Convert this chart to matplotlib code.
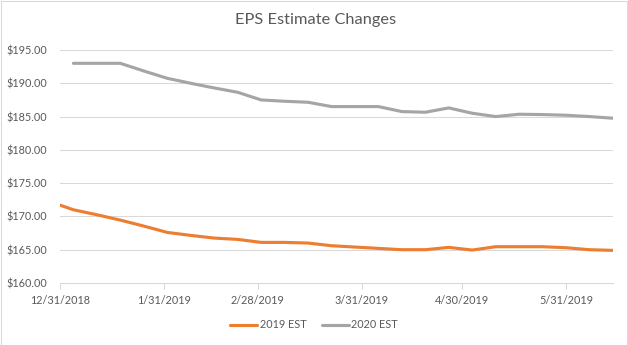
import matplotlib
matplotlib.use('Agg')
from matplotlib import pyplot as plt
from matplotlib.patches import Rectangle
from matplotlib.ticker import FuncFormatter
import numpy as np
import pandas as pd

dates = pd.to_datetime([
    '2018-12-31', '2019-01-04', '2019-01-11', '2019-01-18', '2019-01-25',
    '2019-02-01', '2019-02-08', '2019-02-15', '2019-02-22', '2019-03-01',
    '2019-03-08', '2019-03-15', '2019-03-22', '2019-03-29', '2019-04-05',
    '2019-04-12', '2019-04-19', '2019-04-26', '2019-05-03', '2019-05-10',
    '2019-05-17', '2019-05-24', '2019-05-31', '2019-06-07', '2019-06-14'])

est_2019 = [171.7, 171.0, 170.25, 169.45, 168.55,
            167.6, 167.15, 166.75, 166.55, 166.1,
            166.1, 166.0, 165.6, 165.4, 165.2,
            165.0, 165.0, 165.35, 164.95, 165.45,
            165.45, 165.45, 165.3, 165.0, 164.9]

est_2020 = [np.nan, 193.0, 193.0, 193.0, 191.85,
            190.75, 190.0, 189.3, 188.65, 187.5,
            187.3, 187.15, 186.5, 186.5, 186.5,
            185.75, 185.65, 186.3, 185.5, 185.0,
            185.35, 185.3, 185.2, 185.0, 184.75]

tick_dates = pd.to_datetime(['2018-12-31', '2019-01-31', '2019-02-28',
                             '2019-03-31', '2019-04-30', '2019-05-31'])
tick_labels = ['12/31/2018', '1/31/2019', '2/28/2019',
               '3/31/2019', '4/30/2019', '5/31/2019']

text_color = '#595959'
grid_color = '#d9d9d9'


def main():
    plt.rcParams['font.family'] = ['Lato', 'DejaVu Sans']
    fig = plt.figure(figsize=(6.28, 3.45), dpi=100)
    ax = fig.add_axes([60 / 628, 1 - 283 / 345, 553 / 628, 233 / 345])

    ax.plot(dates, est_2019, color='#ED7D31', linewidth=2.25, label='2019 EST',
            solid_capstyle='round', solid_joinstyle='round')
    ax.plot(dates, est_2020, color='#A5A5A5', linewidth=2.25, label='2020 EST',
            solid_capstyle='round', solid_joinstyle='round')

    ax.set_xlim(dates[0], dates[-1])
    ax.set_ylim(160, 195)
    ax.set_yticks(np.arange(160, 196, 5))
    ax.yaxis.set_major_formatter(FuncFormatter(lambda v, p: f'${v:,.2f}'))
    ax.set_xticks(tick_dates)
    ax.set_xticklabels(tick_labels)

    ax.grid(axis='y', color=grid_color, linewidth=0.75)
    ax.set_axisbelow(True)
    for s in ['top', 'right', 'left']:
        ax.spines[s].set_visible(False)
    ax.spines['bottom'].set_color(grid_color)
    ax.spines['bottom'].set_linewidth(0.75)
    ax.tick_params(axis='y', length=0, pad=9, labelsize=7.8, labelcolor=text_color)
    ax.tick_params(axis='x', length=4, width=0.75, color=grid_color, pad=5,
                   labelsize=7.8, labelcolor=text_color)

    fig.text(0.503, 1 - 20 / 345, 'EPS Estimate Changes', ha='center', va='center',
             fontsize=11.8, color=text_color)

    fig.legend(loc='center', bbox_to_anchor=(0.5, 1 - 325 / 345), ncol=2,
               frameon=False, fontsize=7.8, labelcolor=text_color,
               handlelength=2.5, columnspacing=1.4, handletextpad=0.25)

    fig.patches.append(Rectangle((0.5 / 628, 0.5 / 345), 1 - 1.5 / 628, 1 - 1.5 / 345,
                                 transform=fig.transFigure, fill=False,
                                 edgecolor=grid_color, linewidth=0.75))

    fig.savefig('out.png', dpi=100)


if __name__ == '__main__':
    main()
